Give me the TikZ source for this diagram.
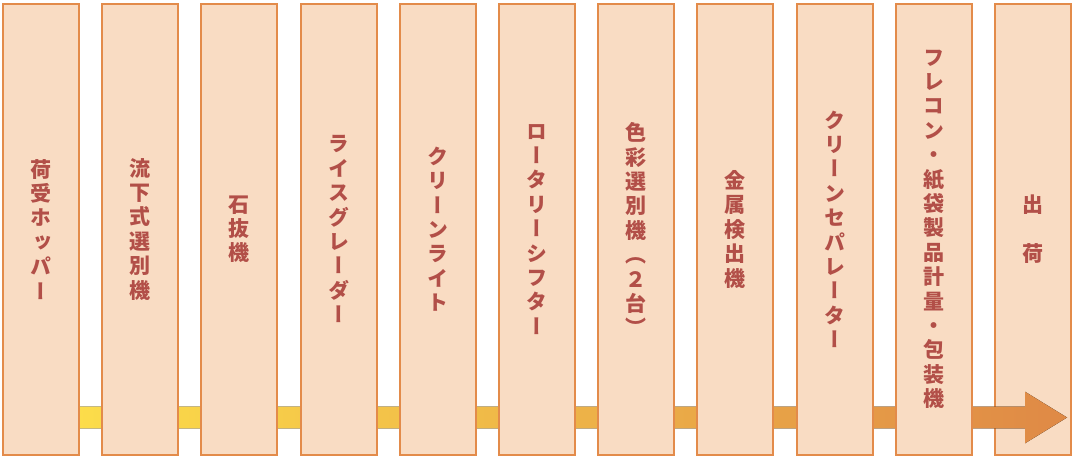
\documentclass[tikz,border=0pt]{standalone}
\usepackage{fontspec}
\newfontfamily\jp{Noto Sans CJK JP}[RawFeature=+vert]
\usetikzlibrary{calc}
\definecolor{boxfill}{HTML}{F9DCC3}
\definecolor{boxline}{HTML}{E38B4A}
\definecolor{txt}{HTML}{B24F48}
\definecolor{barA}{HTML}{FDE04A}
\definecolor{barB}{HTML}{F6B04F}
\definecolor{barC}{HTML}{DF8946}
\pgfdeclarelayer{bg}
\pgfdeclarelayer{fg}
\pgfsetlayers{bg,main,fg}
\begin{document}
\begin{tikzpicture}[x=1pt,y=-1pt,
  stagebox/.style={draw=boxline, line width=2pt, fill=boxfill,
    minimum width=76pt, minimum height=451pt, inner sep=0pt,
    text=txt, align=center,
    font=\jp\bfseries\fontsize{21}{24.4}\selectfont},
  flowbar/.style={left color=barA, middle color=barB, right color=barC, draw=none}]
\useasboundingbox (0,0) rectangle (1075,460);
\begin{pgfonlayer}{bg}
  \node[stagebox] (b11) at (1033,229.2) {出\\[24.4pt]荷};
\end{pgfonlayer}
\begin{pgfonlayer}{fg}
  \node[stagebox] (b1) at (41,229.2) {荷\\受\\ホ\\ッ\\パ\\ー};
  \node[stagebox] (b2) at (140.2,229.2) {流\\下\\式\\選\\別\\機};
  \node[stagebox] (b3) at (239.4,229.2) {石\\抜\\機};
  \node[stagebox] (b4) at (338.6,229.2) {ラ\\イ\\ス\\グ\\レ\\ー\\ダ\\ー};
  \node[stagebox] (b5) at (437.8,229.2) {ク\\リ\\ー\\ン\\ラ\\イ\\ト};
  \node[stagebox] (b6) at (537,229.2) {ロ\\ー\\タ\\リ\\ー\\シ\\フ\\タ\\ー};
  \node[stagebox] (b7) at (636.2,229.2) {色\\彩\\選\\別\\機\\（\\２\\台\\）};
  \node[stagebox] (b8) at (735.4,229.2) {金\\属\\検\\出\\機};
  \node[stagebox] (b9) at (834.6,229.2) {ク\\リ\\ー\\ン\\セ\\パ\\レ\\ー\\タ\\ー};
  \node[stagebox] (b10) at (933.8,229.2) {フ\\レ\\コ\\ン\\・\\紙\\袋\\製\\品\\計\\量\\・\\包\\装\\機};
\end{pgfonlayer}
\coordinate (bs) at ([yshift=-188.3pt]b1.center);
\coordinate (tip) at ([yshift=-188.3pt,xshift=34pt]b11.center);
\fill[flowbar] ($(bs)+(0,-10.8)$) -- ($(tip)+(-42,-10.8)$) -- ($(tip)+(-42,-25.8)$)
  -- (tip) -- ($(tip)+(-42,25.8)$) -- ($(tip)+(-42,10.8)$) -- ($(bs)+(0,10.8)$) -- cycle;
\end{tikzpicture}
\end{document}
